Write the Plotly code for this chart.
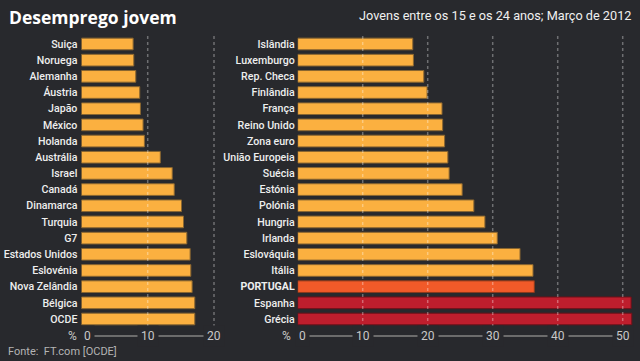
import plotly.graph_objects as go

# ---- data ----
left_countries = ["Suiça", "Noruega", "Alemanha", "Áustria", "Japão", "México", "Holanda",
                  "Austrália", "Israel", "Canadá", "Dinamarca", "Turquia", "G7",
                  "Estados Unidos", "Eslovénia", "Nova Zelândia", "Bélgica", "OCDE"]
left_values = [7.8, 7.9, 8.2, 8.8, 8.9, 9.3, 9.5, 11.9, 13.7, 14.0, 15.1, 15.4, 15.9,
               16.4, 16.5, 16.7, 17.1, 17.1]

right_countries = ["Islândia", "Luxemburgo", "Rep. Checa", "Finlândia", "França", "Reino Unido",
                   "Zona euro", "União Europeia", "Suécia", "Estónia", "Polónia", "Hungria",
                   "Irlanda", "Eslováquia", "Itália", "PORTUGAL", "Espanha", "Grécia"]
right_values = [17.7, 17.8, 19.4, 19.9, 22.2, 22.3, 22.6, 23.1, 23.3, 25.3, 27.1, 28.8,
                30.7, 34.2, 36.2, 36.4, 51.3, 51.4]

left_ticks = [0, 10, 20]
right_ticks = [0, 10, 20, 30, 40, 50]

# ---- style ----
BG = "#28292d"
ORANGE = "#FBB040"
PORT = "#F15A29"
RED = "#BE1E2D"
FONT = "Roboto"

def bar_colors(names):
    cols, lines = [], []
    for n in names:
        if n == "PORTUGAL":
            cols.append(PORT); lines.append("#8a3a1c")
        elif n in ("Espanha", "Grécia"):
            cols.append(RED); lines.append("#6e1119")
        else:
            cols.append(ORANGE); lines.append("#8a6630")
    return cols, lines

fig = go.Figure()
lc, ll = bar_colors(left_countries)
rc, rl = bar_colors(right_countries)
fig.add_trace(go.Bar(x=left_values, y=left_countries, orientation="h",
                     marker=dict(color=lc, line=dict(color=ll, width=1)),
                     xaxis="x", yaxis="y", hoverinfo="x+y"))
fig.add_trace(go.Bar(x=right_values, y=right_countries, orientation="h",
                     marker=dict(color=rc, line=dict(color=rl, width=1)),
                     xaxis="x2", yaxis="y2", hoverinfo="x+y"))

W, H = 640, 361
y_dom = [(H - 327.1) / H, (H - 35.9) / H]
lx0, lpx = 81.4, 6.63
rx0, rpx = 297.7, 6.5
lx_end, rx_end = 220.0, 636.0

right_ticktext = ["<b>PORTUGAL</b>" if c == "PORTUGAL" else c for c in right_countries]

axis_common = dict(showgrid=False, zeroline=False, showline=False, showticklabels=False,
                   fixedrange=True)
LABEL_FONT = dict(family=FONT, size=10.6, color="#eeeeee", weight=500)
fig.update_layout(
    width=W, height=H, margin=dict(l=0, r=0, t=0, b=0),
    paper_bgcolor=BG, plot_bgcolor=BG, showlegend=False, bargap=0.28,
    font=dict(family=FONT, color="#eeeeee"),
    xaxis=dict(domain=[lx0 / W, lx_end / W], range=[0, (lx_end - lx0) / lpx], anchor="y",
               **axis_common),
    xaxis2=dict(domain=[rx0 / W, rx_end / W], range=[0, (rx_end - rx0) / rpx], anchor="y2",
                **axis_common),
    yaxis=dict(domain=y_dom, anchor="x", type="category", categoryorder="array",
               categoryarray=left_countries, autorange="reversed", showgrid=False,
               zeroline=False, ticks="", ticklabelstandoff=3, tickfont=LABEL_FONT),
    yaxis2=dict(domain=y_dom, anchor="x2", type="category", categoryorder="array",
                categoryarray=right_countries, tickvals=right_countries, ticktext=right_ticktext,
                autorange="reversed", showgrid=False, zeroline=False, ticks="",
                ticklabelstandoff=2, tickfont=LABEL_FONT),
)

# dotted gridlines drawn over the bars
GRID = "rgba(255,255,255,0.33)"
for xr, yr, ticks in (("x", "y", left_ticks[1:]), ("x2", "y2", right_ticks[1:])):
    for t in ticks:
        fig.add_shape(type="line", xref=xr, yref=yr + " domain", x0=t, x1=t, y0=0, y1=1,
                      line=dict(color=GRID, width=1.5, dash="dot"), layer="above")

# axis line with tick labels sitting on it
AX_Y = (H - 336) / H
for xr, ticks, zshift in (("x", left_ticks, 6), ("x2", right_ticks, 5)):
    fig.add_shape(type="line", xref=xr, yref="paper", x0=ticks[0], x1=ticks[-1],
                  y0=AX_Y, y1=AX_Y, line=dict(color="#6c6c6c", width=2), layer="below")
    for t in ticks:
        fig.add_annotation(x=t, xref=xr, y=AX_Y, yref="paper", text=str(t), showarrow=False,
                           bgcolor=BG, borderpad=3, xanchor="center", yanchor="middle",
                           xshift=zshift if t == 0 else 0,
                           font=dict(family=FONT, size=12, color="#c8c8c8"))

for px in (78.5, 293.0):
    fig.add_annotation(x=px / W, xref="paper", y=AX_Y, yref="paper", text="%", showarrow=False,
                       xanchor="right", yanchor="middle",
                       font=dict(family=FONT, size=12, color="#c8c8c8"))

# title, subtitle, source
fig.add_annotation(x=7 / W, xref="paper", y=1 - 17 / H, yref="paper", text="<b>Desemprego jovem</b>",
                   showarrow=False, xanchor="left", yanchor="middle",
                   font=dict(family="Open Sans", size=17.5, color="#ffffff"))
fig.add_annotation(x=633 / W, xref="paper", y=1 - 15 / H, yref="paper",
                   text="Jovens entre os 15 e os 24 anos; Março de 2012",
                   showarrow=False, xanchor="right", yanchor="middle",
                   font=dict(family=FONT, size=12.7, color="#f0f0f0"))
fig.add_annotation(x=6 / W, xref="paper", y=1 - 351 / H, yref="paper",
                   text="Fonte:  FT.com [OCDE]",
                   showarrow=False, xanchor="left", yanchor="middle",
                   font=dict(family=FONT, size=11, color="#b4b4b4"))

fig.write_html("out.html", config={"displayModeBar": False},
               post_script="document.body.style.margin='0';document.body.style.overflow='hidden';"
                           "document.body.style.background='" + BG + "';")
